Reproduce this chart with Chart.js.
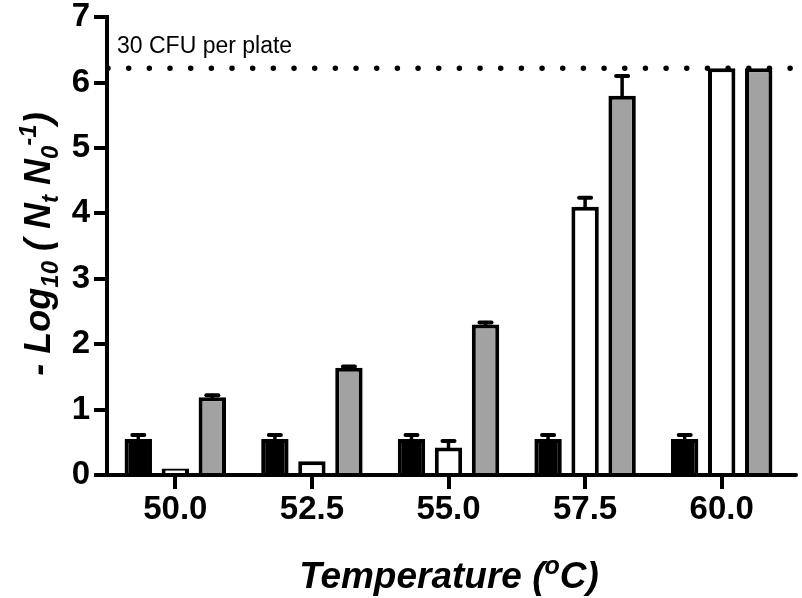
<!DOCTYPE html>
<html>
<head>
<meta charset="utf-8">
<script src="https://cdn.jsdelivr.net/npm/chart.js@4.4.1/dist/chart.umd.min.js"></script>
<style>
    html, body { margin: 0; padding: 0; background: #fff; }
</style>
</head>
<body>
<canvas id="chart" width="802" height="598"></canvas>
<script>
// values
const temperatures = ['50.0', '52.5', '55.0', '57.5', '60.0'];
const blackBars = [0.55, 0.55, 0.55, 0.55, 0.55];
const blackErr  = [0.06, 0.06, 0.06, 0.06, 0.06];
const whiteBars = [0.10, 0.21, 0.42, 4.10, 6.22];
const whiteErr  = [0, 0, 0.10, 0.14, 0];
const grayBars  = [1.19, 1.64, 2.30, 5.80, 6.22];
const grayErr   = [0.03, 0.02, 0.03, 0.30, 0];
const yTickValues = [0, 1, 2, 3, 4, 5, 6, 7];
const detectionLimit = 6.22;
const limitLabel = '30 CFU per plate';

const FONT = "'Liberation Sans', Arial, Helvetica, sans-serif";

// draws a run of text pieces with sub/superscripts, centred on (cx, cy)
function drawRich(ctx, parts, cx, cy, angle, size) {
    const subSize = Math.round(size * 0.68);
    ctx.save();
    ctx.translate(cx, cy);
    ctx.rotate(angle);
    ctx.fillStyle = '#000';
    ctx.textBaseline = 'alphabetic';
    ctx.textAlign = 'left';
    let total = 0;
    parts.forEach(p => {
        ctx.font = 'italic bold ' + (p.sub || p.sup ? subSize : size) + 'px ' + FONT;
        p.w = ctx.measureText(p.t).width;
        total += p.w;
    });
    let x = -total / 2;
    const base = size * 0.358;
    parts.forEach(p => {
        ctx.font = 'italic bold ' + (p.sub || p.sup ? subSize : size) + 'px ' + FONT;
        let y = base;
        if (p.sub) y += size * 0.22;
        if (p.sup) y -= size * 0.38;
        ctx.fillText(p.t, x, y);
        x += p.w;
    });
    ctx.restore();
}

const errorBars = {
    id: 'errorBars',
    afterDatasetsDraw(chart) {
        const ctx = chart.ctx;
        const y = chart.scales.y;
        const errs = [blackErr, whiteErr, grayErr];
        ctx.save();
        ctx.strokeStyle = '#000';
        ctx.lineCap = 'round';
        chart.data.datasets.forEach((ds, i) => {
            const meta = chart.getDatasetMeta(i);
            meta.data.forEach((bar, j) => {
                const e = errs[i][j];
                if (!e) return;
                const top = y.getPixelForValue(ds.data[j] + e);
                const base = y.getPixelForValue(ds.data[j]);
                ctx.lineWidth = 3.5;
                ctx.beginPath();
                ctx.moveTo(bar.x, base);
                ctx.lineTo(bar.x, top);
                ctx.stroke();
                ctx.lineWidth = 4;
                ctx.beginPath();
                ctx.moveTo(bar.x - 6, top);
                ctx.lineTo(bar.x + 6, top);
                ctx.stroke();
            });
        });
        ctx.restore();
    }
};

const annotations = {
    id: 'annotations',
    afterDraw(chart) {
        const ctx = chart.ctx;
        const area = chart.chartArea;
        const ly = chart.scales.y.getPixelForValue(detectionLimit);

        // x axis runs a little past the last category
        ctx.save();
        ctx.strokeStyle = '#000';
        ctx.lineWidth = 4;
        ctx.lineCap = 'round';
        ctx.beginPath();
        ctx.moveTo(area.right, area.bottom);
        ctx.lineTo(796, area.bottom);
        ctx.stroke();

        // dotted limit line
        ctx.lineWidth = 5.5;
        ctx.setLineDash([0, 20.67]);
        ctx.beginPath();
        ctx.moveTo(area.left + 1, ly);
        ctx.lineTo(area.right + 2, ly);
        ctx.stroke();
        ctx.restore();

        ctx.save();
        ctx.fillStyle = '#000';
        ctx.font = '23px ' + FONT;
        ctx.textBaseline = 'alphabetic';
        ctx.fillText(limitLabel, 117, 53);
        ctx.restore();

        // axis titles
        drawRich(ctx, [
            { t: '- Log' }, { t: '10', sub: true }, { t: ' ( N' }, { t: 't', sub: true },
            { t: ' N' }, { t: '0', sub: true }, { t: '-1', sup: true }, { t: ')' }
        ], 37, 244, -Math.PI / 2, 36);
        drawRich(ctx, [
            { t: 'Temperature (' }, { t: 'o', sup: true }, { t: 'C)' }
        ], 449, 575, 0, 37);
    }
};

const barStyle = {
    borderColor: '#000',
    borderWidth: 4,
    categoryPercentage: 0.813,
    barPercentage: 0.74
};

new Chart(document.getElementById('chart'), {
    type: 'bar',
    data: {
        labels: temperatures,
        datasets: [
            Object.assign({ label: 'black', data: blackBars, backgroundColor: '#000' }, barStyle),
            Object.assign({ label: 'white', data: whiteBars, backgroundColor: '#fff' }, barStyle),
            Object.assign({ label: 'gray', data: grayBars, backgroundColor: '#a2a2a2' }, barStyle)
        ]
    },
    options: {
        responsive: false,
        animation: false,
        layout: { padding: { top: 15, right: 12, bottom: 0, left: 0 } },
        scales: {
            x: {
                afterFit: s => { s.height = 123; },
                grid: {
                    offset: false,
                    drawOnChartArea: false,
                    drawTicks: true,
                    tickLength: 14,
                    lineWidth: 4,
                    color: '#000'
                },
                border: { color: '#000', width: 4 },
                ticks: {
                    color: '#000',
                    padding: 4,
                    font: { family: FONT, size: 33, weight: 'bold', lineHeight: 1 }
                }
            },
            y: {
                min: 0,
                max: 7,
                afterFit: s => { s.width = 107; },
                afterBuildTicks: s => { s.ticks = yTickValues.map(v => ({ value: v })); },
                grid: {
                    drawOnChartArea: false,
                    drawTicks: true,
                    tickLength: 13,
                    lineWidth: 4,
                    color: '#000'
                },
                border: { color: '#000', width: 4 },
                ticks: {
                    color: '#000',
                    padding: 4,
                    font: { family: FONT, size: 33, weight: 'bold', lineHeight: 0.8 }
                }
            }
        },
        plugins: {
            legend: { display: false },
            tooltip: { enabled: false }
        }
    },
    plugins: [errorBars, annotations]
});
</script>
</body>
</html>
